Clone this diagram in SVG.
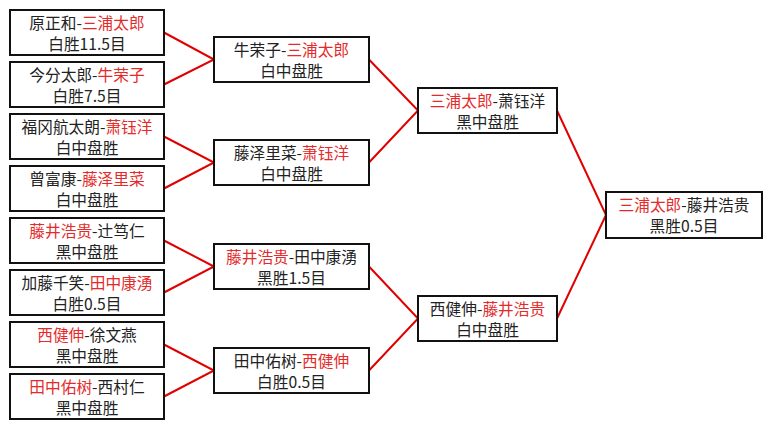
<svg xmlns="http://www.w3.org/2000/svg" width="771" height="429" viewBox="0 0 771 429">
<style>
.box{fill:#fff;stroke:#111;stroke-width:2}
text{font-family:"Noto Sans CJK SC","Noto Sans",sans-serif;font-size:15.7px;fill:#222;text-anchor:middle}
.r{fill:#e52a2a}
.c{stroke:#e00000;stroke-width:2;fill:none}
</style>
<rect width="771" height="429" fill="#fff"/>
<g id="connectors">
<polyline class="c" points="164,32.5 214,59.5 164,84.5"/>
<polyline class="c" points="164,136.5 214,162.5 164,188.5"/>
<polyline class="c" points="164,240.5 214,266.5 164,292.5"/>
<polyline class="c" points="164,344.5 214,370.5 164,396.5"/>
<polyline class="c" points="369,59.5 418,110.5 369,162.5"/>
<polyline class="c" points="369,266.5 418,318.5 369,370.5"/>
<polyline class="c" points="557,110.5 606,215 557,318.5"/>
</g>
<g id="n1"><rect class="box" x="10" y="10" width="154" height="45"/><text x="87" y="29">原正和-<tspan class="r">三浦太郎</tspan></text><text x="87" y="50">白胜11.5目</text></g>
<g id="n2"><rect class="box" x="10" y="62" width="154" height="45"/><text x="87" y="81">今分太郎-<tspan class="r">牛荣子</tspan></text><text x="87" y="102">白胜7.5目</text></g>
<g id="n3"><rect class="box" x="10" y="114" width="154" height="45"/><text x="87" y="133">福冈航太朗-<tspan class="r">萧钰洋</tspan></text><text x="87" y="154">白中盘胜</text></g>
<g id="n4"><rect class="box" x="10" y="166" width="154" height="45"/><text x="87" y="185">曾富康-<tspan class="r">藤泽里菜</tspan></text><text x="87" y="206">白中盘胜</text></g>
<g id="n5"><rect class="box" x="10" y="218" width="154" height="45"/><text x="87" y="237"><tspan class="r">藤井浩贵</tspan>-辻笃仁</text><text x="87" y="258">黑中盘胜</text></g>
<g id="n6"><rect class="box" x="10" y="270" width="154" height="45"/><text x="87" y="289">加藤千笑-<tspan class="r">田中康湧</tspan></text><text x="87" y="310">白胜0.5目</text></g>
<g id="n7"><rect class="box" x="10" y="322" width="154" height="45"/><text x="87" y="341"><tspan class="r">西健伸</tspan>-徐文燕</text><text x="87" y="362">黑中盘胜</text></g>
<g id="n8"><rect class="box" x="10" y="374" width="154" height="45"/><text x="87" y="393"><tspan class="r">田中佑树</tspan>-西村仁</text><text x="87" y="414">黑中盘胜</text></g>
<g id="m1"><rect class="box" x="214" y="37" width="155" height="45"/><text x="291.5" y="56">牛荣子-<tspan class="r">三浦太郎</tspan></text><text x="291.5" y="77">白中盘胜</text></g>
<g id="m2"><rect class="box" x="214" y="140" width="155" height="45"/><text x="291.5" y="159">藤泽里菜-<tspan class="r">萧钰洋</tspan></text><text x="291.5" y="180">白中盘胜</text></g>
<g id="m3"><rect class="box" x="214" y="244" width="155" height="45"/><text x="291.5" y="263"><tspan class="r">藤井浩贵</tspan>-田中康湧</text><text x="291.5" y="284">黑胜1.5目</text></g>
<g id="m4"><rect class="box" x="214" y="348" width="155" height="45"/><text x="291.5" y="367">田中佑树-<tspan class="r">西健伸</tspan></text><text x="291.5" y="388">白胜0.5目</text></g>
<g id="s1"><rect class="box" x="418" y="88" width="139" height="45"/><text x="487.5" y="107"><tspan class="r">三浦太郎</tspan>-萧钰洋</text><text x="487.5" y="128">黑中盘胜</text></g>
<g id="s2"><rect class="box" x="418" y="296" width="139" height="45"/><text x="487.5" y="315">西健伸-<tspan class="r">藤井浩贵</tspan></text><text x="487.5" y="336">白中盘胜</text></g>
<g id="f"><rect class="box" x="606" y="192" width="156" height="46"/><text x="684" y="211"><tspan class="r">三浦太郎</tspan>-藤井浩贵</text><text x="684" y="232">黑胜0.5目</text></g>
</svg>
